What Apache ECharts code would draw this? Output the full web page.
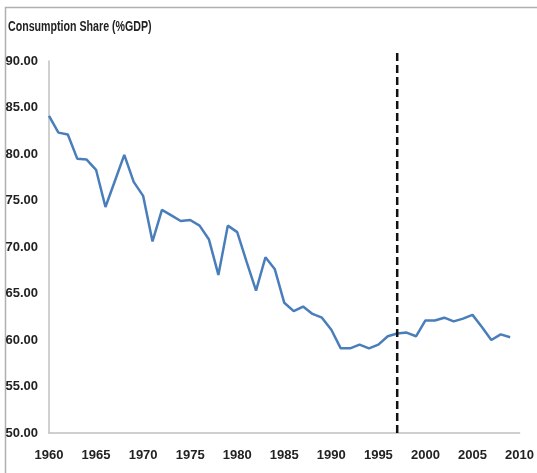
<!DOCTYPE html>
<html>
<head>
<meta charset="utf-8">
<script src="https://cdn.jsdelivr.net/npm/echarts@6/dist/echarts.min.js"></script>
<style>
  html, body { margin: 0; padding: 0; background: #fff; }
  #chart { width: 537px; height: 473px; }
</style>
</head>
<body>
<div id="chart"></div>
<script>
// values
var years = [
    1960, 1961, 1962, 1963, 1964, 1965, 1966, 1967, 1968, 1969,
    1970, 1971, 1972, 1973, 1974, 1975, 1976, 1977, 1978, 1979,
    1980, 1981, 1982, 1983, 1984, 1985, 1986, 1987, 1988, 1989,
    1990, 1991, 1992, 1993, 1994, 1995, 1996, 1997, 1998, 1999,
    2000, 2001, 2002, 2003, 2004, 2005, 2006, 2007, 2008, 2009
];
var consumptionShare = [
    84.1, 82.3, 82.1, 79.5, 79.4, 78.3, 74.3, 77.1, 79.9, 77.0,
    75.5, 70.6, 74.0, 73.4, 72.8, 72.9, 72.3, 70.8, 67.0, 72.3,
    71.6, 68.4, 65.3, 68.9, 67.6, 64.0, 63.1, 63.6, 62.8, 62.4,
    61.1, 59.1, 59.1, 59.5, 59.1, 59.5, 60.4, 60.7, 60.8, 60.4,
    62.1, 62.1, 62.4, 62.0, 62.3, 62.7, 61.4, 60.0, 60.6, 60.3
];
var breakYear = 1997;          // dashed vertical marker
var breakRange = [50, 91.3];   // from axis bottom up past the top tick

var labelFont = '"Liberation Sans", Arial, sans-serif';

var lineData = years.map(function(y, i) { return [y, consumptionShare[i]]; });

var myChart = echarts.init(document.getElementById('chart'));
var option = {
    animation: false,
    backgroundColor: '#fff',
    graphic: [
        {
            type: 'rect',
            shape: { x: 5.5, y: 7.5, width: 600, height: 600 },
            style: { fill: 'none', stroke: '#b0b0b0', lineWidth: 1.5 },
            silent: true
        },
        {
            // title squeezed a bit to look like the narrow original font
            type: 'text',
            left: 8,
            top: 20,
            scaleX: 0.76,
            originX: 0,
            style: {
                text: 'Consumption Share (%GDP)',
                font: 'bold 14px ' + labelFont,
                fill: '#222'
            }
        }
    ],
    grid: { left: 49, right: 17, top: 61, bottom: 40 },
    xAxis: {
        type: 'value',
        min: 1960,
        max: 2010,
        interval: 5,
        splitLine: { show: false },
        axisTick: { show: false },
        axisLine: { show: true, lineStyle: { color: '#c0c0c0', width: 1.5 } },
        axisLabel: {
            margin: 16,
            fontFamily: labelFont,
            fontSize: 13,
            fontWeight: 'bold',
            color: '#222',
            formatter: function(v) { return String(v); }
        }
    },
    yAxis: {
        type: 'value',
        min: 50,
        max: 90,
        interval: 5,
        splitLine: { show: false },
        axisTick: { show: false },
        axisLine: { show: true, lineStyle: { color: '#c0c0c0', width: 1.5 } },
        axisLabel: {
            margin: 11,
            fontFamily: labelFont,
            fontSize: 13,
            fontWeight: 'bold',
            color: '#222',
            formatter: function(v) { return v.toFixed(2); }
        }
    },
    series: [
        {
            name: 'Consumption Share',
            type: 'line',
            data: lineData,
            showSymbol: false,
            lineStyle: { color: '#4a7ebb', width: 2.5 }
        },
        {
            name: 'Break',
            type: 'line',
            clip: false,
            data: [[breakYear, breakRange[0]], [breakYear, breakRange[1]]],
            showSymbol: false,
            lineStyle: { color: '#111', width: 2.5, type: [8, 4] }
        }
    ]
};
myChart.setOption(option, true);
</script>
</body>
</html>
